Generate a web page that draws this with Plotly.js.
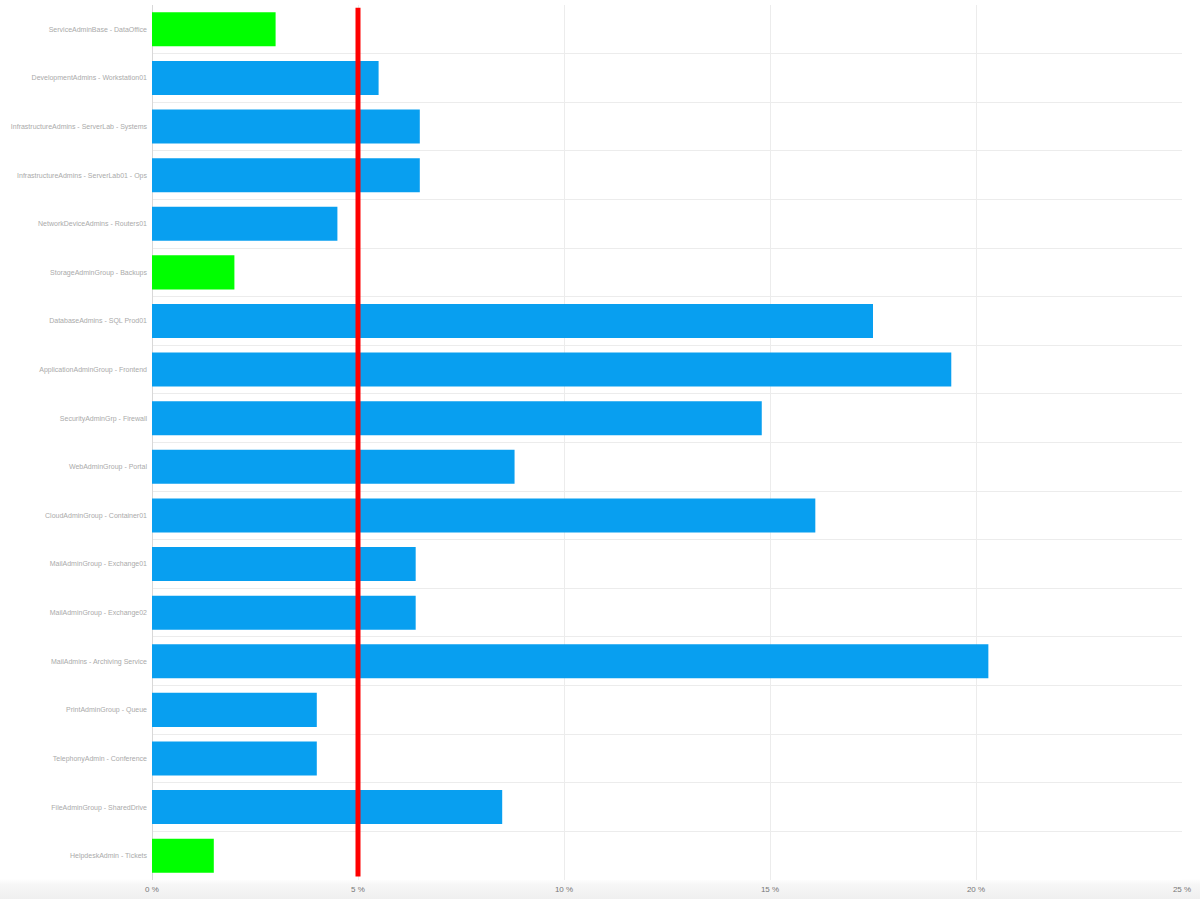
<!DOCTYPE html>
<html>
<head>
<meta charset="utf-8">
<script src="https://cdn.plot.ly/plotly-3.0.1.min.js"></script>
<style>
html,body{margin:0;padding:0;background:#fff;}
#chart{width:1200px;height:899px;background:linear-gradient(to bottom,#ffffff 0px,#ffffff 879px,#f7f7f7 884px,#efefef 899px);}
</style>
</head>
<body>
<div id="chart"></div>
<script>
const categories = [
  "ServiceAdminBase - DataOffice",
  "DevelopmentAdmins - Workstation01",
  "InfrastructureAdmins - ServerLab - Systems",
  "InfrastructureAdmins - ServerLab01 - Ops",
  "NetworkDeviceAdmins - Routers01",
  "StorageAdminGroup - Backups",
  "DatabaseAdmins - SQL Prod01",
  "ApplicationAdminGroup - Frontend",
  "SecurityAdminGrp - Firewall",
  "WebAdminGroup - Portal",
  "CloudAdminGroup - Container01",
  "MailAdminGroup - Exchange01",
  "MailAdminGroup - Exchange02",
  "MailAdmins - Archiving Service",
  "PrintAdminGroup - Queue",
  "TelephonyAdmin - Conference",
  "FileAdminGroup - SharedDrive",
  "HelpdeskAdmin - Tickets"
];
const values = [3.0, 5.5, 6.5, 6.5, 4.5, 2.0, 17.5, 19.4, 14.8, 8.8, 16.1, 6.4, 6.4, 20.3, 4.0, 4.0, 8.5, 1.5];
const barColors = ["#00ff00", "#089ff0", "#089ff0", "#089ff0", "#089ff0", "#00ff00", "#089ff0", "#089ff0", "#089ff0", "#089ff0", "#089ff0", "#089ff0", "#089ff0", "#089ff0", "#089ff0", "#089ff0", "#089ff0", "#00ff00"];
const threshold = [5];
const xTickVals = [0, 5, 10, 15, 20, 25];

const trace = {
  type: "bar",
  orientation: "h",
  x: values,
  y: categories,
  marker: {color: barColors, line: {width: 0}},
  width: 0.7,
  hoverinfo: "x+y"
};

const layout = {
  width: 1200,
  height: 899,
  margin: {l: 152, r: 18, t: 5, b: 19},
  paper_bgcolor: "rgba(0,0,0,0)",
  plot_bgcolor: "#ffffff",
  showlegend: false,
  font: {family: "Liberation Sans, Arial, sans-serif", color: "#777"},
  xaxis: {
    range: [0, 25],
    tickvals: xTickVals,
    ticktext: xTickVals.map(v => v + " %"),
    tickfont: {size: 8, color: "#777"},
    ticklabelstandoff: 3,
    showgrid: true,
    gridcolor: "#ececec",
    gridwidth: 1,
    zeroline: true,
    zerolinecolor: "#d8d8d8",
    zerolinewidth: 1,
    showline: false,
    ticks: "",
    fixedrange: true
  },
  yaxis: {
    type: "category",
    autorange: "reversed",
    tickson: "boundaries",
    showgrid: true,
    gridcolor: "#ececec",
    gridwidth: 1,
    ticks: "",
    tickfont: {size: 7, color: "#aaa"},
    ticklabelstandoff: 4,
    showline: false,
    fixedrange: true
  },
  shapes: threshold.map(t => ({
    type: "line",
    xref: "x",
    yref: "paper",
    x0: t, x1: t,
    y0: 0.004, y1: 0.997,
    line: {color: "#ff0000", width: 5}
  }))
};

Plotly.newPlot("chart", [trace], layout, {displayModeBar: false, staticPlot: true});
</script>
</body>
</html>
